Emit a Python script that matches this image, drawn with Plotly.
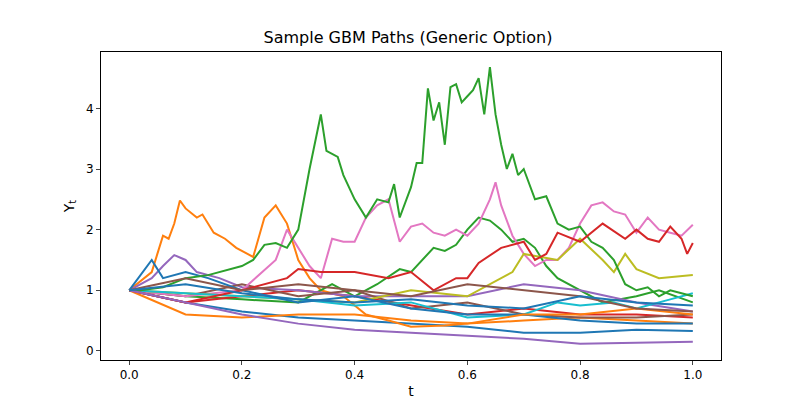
import plotly.graph_objects as go

# paths (t, Y_t)
t_green_big = [0, 0.02, 0.06, 0.1, 0.14, 0.18, 0.2, 0.22, 0.24, 0.26, 0.28, 0.3, 0.32, 0.34, 0.35, 0.37, 0.38, 0.4, 0.42, 0.44, 0.46, 0.47, 0.48, 0.5, 0.51, 0.52, 0.53, 0.54, 0.55, 0.56, 0.57, 0.58, 0.59, 0.6, 0.61, 0.62, 0.63, 0.64, 0.65, 0.66, 0.67, 0.68, 0.69, 0.7, 0.72, 0.74, 0.76, 0.78, 0.8, 0.82, 0.84, 0.86, 0.88, 0.9, 0.92, 0.94, 0.96, 0.98, 1.0]
y_green_big = [1, 1.0, 1.05, 1.2, 1.25, 1.35, 1.4, 1.5, 1.75, 1.78, 1.7, 2.0, 3.0, 3.9, 3.3, 3.2, 2.9, 2.5, 2.2, 2.5, 2.45, 2.75, 2.2, 2.7, 3.1, 3.1, 4.33, 3.8, 4.1, 3.4, 4.35, 4.4, 4.1, 4.2, 4.3, 4.5, 3.9, 4.68, 3.9, 3.4, 3.0, 3.25, 2.9, 3.0, 2.5, 2.55, 2.1, 2.0, 2.05, 1.8, 1.7, 1.5, 1.1, 1.0, 1.05, 0.9, 1.0, 0.95, 0.9]

t_orange_big = [0, 0.02, 0.04, 0.05, 0.06, 0.07, 0.08, 0.09, 0.1, 0.12, 0.13, 0.15, 0.17, 0.19, 0.2, 0.22, 0.24, 0.26, 0.28, 0.3, 0.32, 0.34, 0.38, 0.42, 0.46, 0.5, 0.56, 0.6, 0.7, 0.8, 0.9, 1.0]
y_orange_big = [1, 1.15, 1.3, 1.6, 1.9, 1.85, 2.1, 2.48, 2.35, 2.2, 2.25, 1.95, 1.85, 1.7, 1.65, 1.55, 2.2, 2.4, 2.1, 1.5, 1.2, 1.0, 0.9, 0.6, 0.5, 0.4, 0.42, 0.45, 0.5, 0.55, 0.5, 0.45]

t_pink = [0, 0.1, 0.2, 0.26, 0.28, 0.3, 0.32, 0.34, 0.36, 0.38, 0.4, 0.42, 0.44, 0.46, 0.48, 0.5, 0.52, 0.54, 0.56, 0.58, 0.6, 0.62, 0.64, 0.65, 0.66, 0.68, 0.7, 0.72, 0.74, 0.76, 0.78, 0.8, 0.82, 0.84, 0.86, 0.88, 0.9, 0.92, 0.94, 0.96, 0.98, 1.0]
y_pink = [1, 0.9, 1.0, 1.5, 2.0, 1.7, 1.4, 1.2, 1.85, 1.8, 1.8, 2.2, 2.4, 2.5, 1.8, 2.05, 2.1, 1.95, 1.9, 2.0, 1.9, 2.1, 2.5, 2.78, 2.4, 1.9, 1.6, 1.4, 1.5, 1.5, 1.7, 2.1, 2.4, 2.45, 2.3, 2.25, 1.95, 2.2, 2.0, 1.95, 1.9, 2.08]

t_red_up = [0, 0.1, 0.2, 0.28, 0.3, 0.34, 0.4, 0.46, 0.5, 0.54, 0.58, 0.6, 0.62, 0.66, 0.7, 0.72, 0.74, 0.76, 0.8, 0.84, 0.88, 0.9, 0.92, 0.94, 0.96, 0.98, 0.99, 1.0]
y_red_up = [1, 0.8, 1.0, 1.2, 1.35, 1.3, 1.3, 1.2, 1.3, 1.0, 1.2, 1.2, 1.45, 1.7, 1.8, 1.5, 1.6, 1.95, 1.8, 2.1, 1.85, 2.0, 1.85, 1.8, 2.05, 1.85, 1.6, 1.78]

t_green_mid = [0, 0.1, 0.2, 0.3, 0.36, 0.4, 0.44, 0.48, 0.5, 0.52, 0.54, 0.56, 0.58, 0.6, 0.62, 0.64, 0.66, 0.68, 0.7, 0.72, 0.74, 0.76, 0.8, 0.84, 0.9, 0.94, 1.0]
y_green_mid = [1, 0.9, 0.85, 0.8, 1.1, 0.9, 1.1, 1.35, 1.3, 1.5, 1.7, 1.65, 1.75, 2.0, 2.2, 2.15, 2.0, 1.8, 1.85, 1.7, 1.4, 1.2, 1.0, 0.8, 0.9, 1.0, 0.8]

t_olive = [0, 0.1, 0.2, 0.3, 0.4, 0.5, 0.6, 0.68, 0.7, 0.76, 0.8, 0.84, 0.86, 0.88, 0.9, 0.94, 1.0]
y_olive = [1, 0.95, 0.9, 0.85, 0.8, 1.0, 0.9, 1.3, 1.6, 1.5, 1.85, 1.5, 1.3, 1.6, 1.35, 1.2, 1.25]

t_purple_up = [0, 0.02, 0.04, 0.06, 0.08, 0.1, 0.12, 0.16, 0.2, 0.3, 0.4, 0.5, 0.6, 0.7, 0.8, 0.9, 1.0]
y_purple_up = [1, 1.1, 1.2, 1.4, 1.58, 1.5, 1.3, 1.2, 1.05, 1.0, 0.9, 0.9, 0.9, 1.1, 1.0, 0.8, 0.65]

t_coarse = [0, 0.1, 0.2, 0.3, 0.4, 0.5, 0.6, 0.7, 0.8, 0.9, 1.0]
y_purple_low = [1, 0.8, 0.6, 0.45, 0.35, 0.3, 0.25, 0.2, 0.12, 0.14, 0.15]
y_blue_low = [1, 0.8, 0.65, 0.55, 0.5, 0.45, 0.4, 0.3, 0.3, 0.35, 0.33]
y_brown = [1, 0.9, 1.1, 0.9, 1.0, 0.7, 0.8, 0.6, 0.55, 0.55, 0.6]
y_brown2 = [1, 1.2, 1.0, 1.1, 1.0, 0.9, 1.1, 1.0, 0.9, 0.7, 0.65]
y_orange_low = [1, 0.6, 0.55, 0.6, 0.6, 0.5, 0.45, 0.6, 0.6, 0.7, 0.6]
y_red_low = [1, 0.8, 0.9, 1.0, 0.9, 0.75, 0.6, 0.7, 0.6, 0.6, 0.55]
y_blue_mid = [1, 1.1, 0.95, 0.85, 0.8, 0.85, 0.75, 0.7, 0.9, 0.8, 0.75]

t_blue_spike = [0, 0.04, 0.06, 0.1, 0.14, 0.2, 0.3, 0.4, 0.5, 0.6, 0.7, 0.8, 0.9, 1.0]
y_blue_spike = [1, 1.5, 1.2, 1.3, 1.2, 1.0, 0.8, 0.9, 0.7, 0.6, 0.6, 0.5, 0.45, 0.45]

t_cyan = [0, 0.1, 0.2, 0.3, 0.4, 0.5, 0.6, 0.7, 0.76, 0.8, 0.86, 0.9, 0.96, 1.0]
y_cyan = [1, 0.95, 0.9, 0.85, 0.75, 0.8, 0.55, 0.6, 0.8, 0.75, 0.8, 0.7, 0.85, 0.95]

paths = [
    (t_coarse, y_blue_low, "#1f77b4"),
    (t_orange_big, y_orange_big, "#ff7f0e"),
    (t_green_mid, y_green_mid, "#2ca02c"),
    (t_coarse, y_red_low, "#d62728"),
    (t_purple_up, y_purple_up, "#9467bd"),
    (t_coarse, y_brown, "#8c564b"),
    (t_pink, y_pink, "#e377c2"),
    (t_olive, y_olive, "#bcbd22"),
    (t_cyan, y_cyan, "#17becf"),
    (t_blue_spike, y_blue_spike, "#1f77b4"),
    (t_coarse, y_orange_low, "#ff7f0e"),
    (t_green_big, y_green_big, "#2ca02c"),
    (t_red_up, y_red_up, "#d62728"),
    (t_coarse, y_purple_low, "#9467bd"),
    (t_coarse, y_brown2, "#8c564b"),
    (t_coarse, y_blue_mid, "#1f77b4"),
]

fig = go.Figure()
for t, y, c in paths:
    fig.add_trace(go.Scatter(x=t, y=y, mode="lines", line=dict(color=c, width=2), showlegend=False))

ax = dict(showline=True, linecolor="black", mirror=True, ticks="outside", ticklen=4,
          showgrid=False, zeroline=False, tickfont=dict(size=12, color="black"))
fig.update_layout(
    width=800, height=400, plot_bgcolor="white", paper_bgcolor="white",
    font=dict(family="DejaVu Sans", size=12, color="black"),
    margin=dict(l=93, r=87, t=44, b=46),
    title=dict(text="Sample GBM Paths (Generic Option)", x=0.5, y=0.94, font=dict(size=16)),
    xaxis=dict(ax, range=[-0.05, 1.05], tickvals=[0, 0.2, 0.4, 0.6, 0.8, 1.0],
               ticktext=["0.0", "0.2", "0.4", "0.6", "0.8", "1.0"],
               title=dict(text="t", standoff=4)),
    yaxis=dict(ax, range=[-0.15, 4.93], tickvals=[0, 1, 2, 3, 4],
               title=dict(text="Y<sub>t</sub>", standoff=8)),
)
fig.write_html("out.html")
